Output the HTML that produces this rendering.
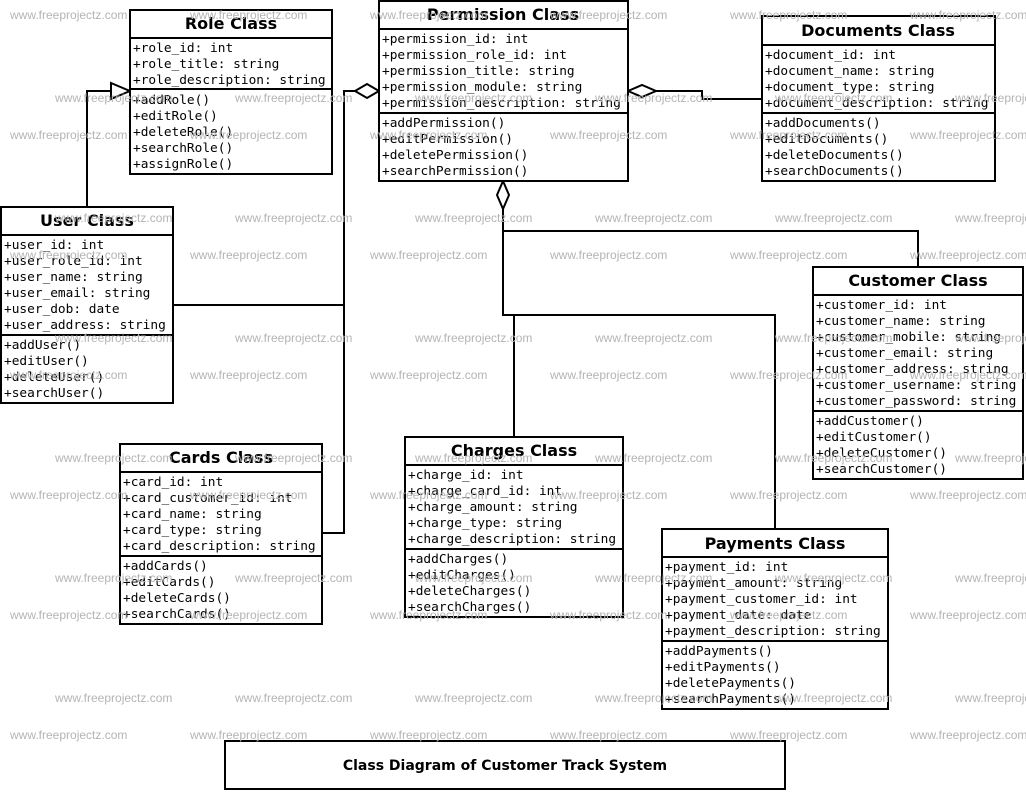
<!DOCTYPE html>
<html><head><meta charset="utf-8"><style>
html,body{margin:0;padding:0;background:#fff}
svg{display:block}
.m{font-family:"DejaVu Sans Mono","Liberation Mono",monospace;font-size:12.8px;fill:#000}
.t{font-family:"DejaVu Sans","Liberation Sans",sans-serif;font-size:16px;font-weight:bold;fill:#000}
.w{font-family:"Liberation Sans","DejaVu Sans",sans-serif;font-size:12px;fill:#b4b4b4}
.b{fill:#fff;stroke:#000;stroke-width:2}
.l{fill:none;stroke:#000;stroke-width:2}
</style></head><body>
<svg width="1026" height="792" viewBox="0 0 1026 792" xmlns="http://www.w3.org/2000/svg">
<!-- connectors -->
<polyline class="l" points="87,207 87,91 111,91"/>
<polygon points="111,83 130,91 111,99" fill="#fff" stroke="#000" stroke-width="2"/>
<polyline class="l" points="173,305 344,305"/>
<polyline class="l" points="322,533 344,533 344,91 355,91"/>
<polygon points="355,91 367,84 379,91 367,98" fill="#fff" stroke="#000" stroke-width="2"/>
<polyline class="l" points="656,91 702,91 702,99 762,99"/>
<polygon points="628,91 642,85 656,91 642,97" fill="#fff" stroke="#000" stroke-width="2"/>
<polygon points="503,181 509,195 503,209 497,195" fill="#fff" stroke="#000" stroke-width="2"/>
<polyline class="l" points="503,209 503,231 918,231 918,267"/>
<polyline class="l" points="503,231 503,315 775,315 775,529"/>
<polyline class="l" points="514,315 514,437"/>

<!-- Role -->
<rect class="b" x="130" y="10" width="202" height="164"/>
<line class="l" x1="130" y1="38" x2="332" y2="38"/><line class="l" x1="130" y1="89" x2="332" y2="89"/>
<text class="t" x="231" y="29" text-anchor="middle">Role Class</text>
<text class="m" x="133" y="52">+role_id: int</text>
<text class="m" x="133" y="68">+role_title: string</text>
<text class="m" x="133" y="84">+role_description: string</text>
<text class="m" x="133" y="104">+addRole()</text>
<text class="m" x="133" y="120">+editRole()</text>
<text class="m" x="133" y="136">+deleteRole()</text>
<text class="m" x="133" y="152">+searchRole()</text>
<text class="m" x="133" y="168">+assignRole()</text>

<!-- Permission -->
<rect class="b" x="379" y="1" width="249" height="180"/>
<line class="l" x1="379" y1="29" x2="628" y2="29"/><line class="l" x1="379" y1="113" x2="628" y2="113"/>
<text class="t" x="503" y="20" text-anchor="middle">Permission Class</text>
<text class="m" x="382" y="43">+permission_id: int</text>
<text class="m" x="382" y="59">+permission_role_id: int</text>
<text class="m" x="382" y="75">+permission_title: string</text>
<text class="m" x="382" y="91">+permission_module: string</text>
<text class="m" x="382" y="107">+permission_description: string</text>
<text class="m" x="382" y="127">+addPermission()</text>
<text class="m" x="382" y="143">+editPermission()</text>
<text class="m" x="382" y="159">+deletePermission()</text>
<text class="m" x="382" y="175">+searchPermission()</text>

<!-- Documents -->
<rect class="b" x="762" y="16" width="233" height="165"/>
<line class="l" x1="762" y1="45" x2="995" y2="45"/><line class="l" x1="762" y1="113" x2="995" y2="113"/>
<text class="t" x="878" y="36" text-anchor="middle">Documents Class</text>
<text class="m" x="765" y="59">+document_id: int</text>
<text class="m" x="765" y="75">+document_name: string</text>
<text class="m" x="765" y="91">+document_type: string</text>
<text class="m" x="765" y="107">+document_description: string</text>
<text class="m" x="765" y="127">+addDocuments()</text>
<text class="m" x="765" y="143">+editDocuments()</text>
<text class="m" x="765" y="159">+deleteDocuments()</text>
<text class="m" x="765" y="175">+searchDocuments()</text>

<!-- User -->
<rect class="b" x="1" y="207" width="172" height="196"/>
<line class="l" x1="1" y1="235" x2="173" y2="235"/><line class="l" x1="1" y1="335" x2="173" y2="335"/>
<text class="t" x="87" y="226" text-anchor="middle">User Class</text>
<text class="m" x="4" y="249">+user_id: int</text>
<text class="m" x="4" y="265">+user_role_id: int</text>
<text class="m" x="4" y="281">+user_name: string</text>
<text class="m" x="4" y="297">+user_email: string</text>
<text class="m" x="4" y="313">+user_dob: date</text>
<text class="m" x="4" y="329">+user_address: string</text>
<text class="m" x="4" y="349">+addUser()</text>
<text class="m" x="4" y="365">+editUser()</text>
<text class="m" x="4" y="381">+deleteUser()</text>
<text class="m" x="4" y="397">+searchUser()</text>

<!-- Customer -->
<rect class="b" x="813" y="267" width="210" height="212"/>
<line class="l" x1="813" y1="295" x2="1023" y2="295"/><line class="l" x1="813" y1="411" x2="1023" y2="411"/>
<text class="t" x="918" y="286" text-anchor="middle">Customer Class</text>
<text class="m" x="816" y="309">+customer_id: int</text>
<text class="m" x="816" y="325">+customer_name: string</text>
<text class="m" x="816" y="341">+customer_mobile: string</text>
<text class="m" x="816" y="357">+customer_email: string</text>
<text class="m" x="816" y="373">+customer_address: string</text>
<text class="m" x="816" y="389">+customer_username: string</text>
<text class="m" x="816" y="405">+customer_password: string</text>
<text class="m" x="816" y="425">+addCustomer()</text>
<text class="m" x="816" y="441">+editCustomer()</text>
<text class="m" x="816" y="457">+deleteCustomer()</text>
<text class="m" x="816" y="473">+searchCustomer()</text>

<!-- Cards -->
<rect class="b" x="120" y="444" width="202" height="180"/>
<line class="l" x1="120" y1="472" x2="322" y2="472"/><line class="l" x1="120" y1="556" x2="322" y2="556"/>
<text class="t" x="221" y="463" text-anchor="middle">Cards Class</text>
<text class="m" x="123" y="486">+card_id: int</text>
<text class="m" x="123" y="502">+card_customer_id: int</text>
<text class="m" x="123" y="518">+card_name: string</text>
<text class="m" x="123" y="534">+card_type: string</text>
<text class="m" x="123" y="550">+card_description: string</text>
<text class="m" x="123" y="570">+addCards()</text>
<text class="m" x="123" y="586">+editCards()</text>
<text class="m" x="123" y="602">+deleteCards()</text>
<text class="m" x="123" y="618">+searchCards()</text>

<!-- Charges -->
<rect class="b" x="405" y="437" width="218" height="180"/>
<line class="l" x1="405" y1="465" x2="623" y2="465"/><line class="l" x1="405" y1="549" x2="623" y2="549"/>
<text class="t" x="514" y="456" text-anchor="middle">Charges Class</text>
<text class="m" x="408" y="479">+charge_id: int</text>
<text class="m" x="408" y="495">+charge_card_id: int</text>
<text class="m" x="408" y="511">+charge_amount: string</text>
<text class="m" x="408" y="527">+charge_type: string</text>
<text class="m" x="408" y="543">+charge_description: string</text>
<text class="m" x="408" y="563">+addCharges()</text>
<text class="m" x="408" y="579">+editCharges()</text>
<text class="m" x="408" y="595">+deleteCharges()</text>
<text class="m" x="408" y="611">+searchCharges()</text>

<!-- Payments -->
<rect class="b" x="662" y="529" width="226" height="180"/>
<line class="l" x1="662" y1="557" x2="888" y2="557"/><line class="l" x1="662" y1="641" x2="888" y2="641"/>
<text class="t" x="775" y="549" text-anchor="middle">Payments Class</text>
<text class="m" x="665" y="571">+payment_id: int</text>
<text class="m" x="665" y="587">+payment_amount: string</text>
<text class="m" x="665" y="603">+payment_customer_id: int</text>
<text class="m" x="665" y="619">+payment_date: date</text>
<text class="m" x="665" y="635">+payment_description: string</text>
<text class="m" x="665" y="655">+addPayments()</text>
<text class="m" x="665" y="671">+editPayments()</text>
<text class="m" x="665" y="687">+deletePayments()</text>
<text class="m" x="665" y="703">+searchPayments()</text>

<!-- caption -->
<rect class="b" x="225" y="741" width="560" height="48"/>
<text x="505" y="770" text-anchor="middle" style="font-family:'DejaVu Sans','Liberation Sans',sans-serif;font-size:14px;font-weight:bold">Class Diagram of Customer Track System</text>

<!-- watermarks -->
<g class="w">
<text x="10" y="19">www.freeprojectz.com</text><text x="190" y="19">www.freeprojectz.com</text><text x="370" y="19">www.freeprojectz.com</text><text x="550" y="19">www.freeprojectz.com</text><text x="730" y="19">www.freeprojectz.com</text><text x="910" y="19">www.freeprojectz.com</text>
<text x="55" y="102">www.freeprojectz.com</text><text x="235" y="102">www.freeprojectz.com</text><text x="415" y="102">www.freeprojectz.com</text><text x="595" y="102">www.freeprojectz.com</text><text x="775" y="102">www.freeprojectz.com</text><text x="955" y="102">www.freeprojectz.com</text>
<text x="10" y="139">www.freeprojectz.com</text><text x="190" y="139">www.freeprojectz.com</text><text x="370" y="139">www.freeprojectz.com</text><text x="550" y="139">www.freeprojectz.com</text><text x="730" y="139">www.freeprojectz.com</text><text x="910" y="139">www.freeprojectz.com</text>
<text x="55" y="222">www.freeprojectz.com</text><text x="235" y="222">www.freeprojectz.com</text><text x="415" y="222">www.freeprojectz.com</text><text x="595" y="222">www.freeprojectz.com</text><text x="775" y="222">www.freeprojectz.com</text><text x="955" y="222">www.freeprojectz.com</text>
<text x="10" y="259">www.freeprojectz.com</text><text x="190" y="259">www.freeprojectz.com</text><text x="370" y="259">www.freeprojectz.com</text><text x="550" y="259">www.freeprojectz.com</text><text x="730" y="259">www.freeprojectz.com</text><text x="910" y="259">www.freeprojectz.com</text>
<text x="55" y="342">www.freeprojectz.com</text><text x="235" y="342">www.freeprojectz.com</text><text x="415" y="342">www.freeprojectz.com</text><text x="595" y="342">www.freeprojectz.com</text><text x="775" y="342">www.freeprojectz.com</text><text x="955" y="342">www.freeprojectz.com</text>
<text x="10" y="379">www.freeprojectz.com</text><text x="190" y="379">www.freeprojectz.com</text><text x="370" y="379">www.freeprojectz.com</text><text x="550" y="379">www.freeprojectz.com</text><text x="730" y="379">www.freeprojectz.com</text><text x="910" y="379">www.freeprojectz.com</text>
<text x="55" y="462">www.freeprojectz.com</text><text x="235" y="462">www.freeprojectz.com</text><text x="415" y="462">www.freeprojectz.com</text><text x="595" y="462">www.freeprojectz.com</text><text x="775" y="462">www.freeprojectz.com</text><text x="955" y="462">www.freeprojectz.com</text>
<text x="10" y="499">www.freeprojectz.com</text><text x="190" y="499">www.freeprojectz.com</text><text x="370" y="499">www.freeprojectz.com</text><text x="550" y="499">www.freeprojectz.com</text><text x="730" y="499">www.freeprojectz.com</text><text x="910" y="499">www.freeprojectz.com</text>
<text x="55" y="582">www.freeprojectz.com</text><text x="235" y="582">www.freeprojectz.com</text><text x="415" y="582">www.freeprojectz.com</text><text x="595" y="582">www.freeprojectz.com</text><text x="775" y="582">www.freeprojectz.com</text><text x="955" y="582">www.freeprojectz.com</text>
<text x="10" y="619">www.freeprojectz.com</text><text x="190" y="619">www.freeprojectz.com</text><text x="370" y="619">www.freeprojectz.com</text><text x="550" y="619">www.freeprojectz.com</text><text x="730" y="619">www.freeprojectz.com</text><text x="910" y="619">www.freeprojectz.com</text>
<text x="55" y="702">www.freeprojectz.com</text><text x="235" y="702">www.freeprojectz.com</text><text x="415" y="702">www.freeprojectz.com</text><text x="595" y="702">www.freeprojectz.com</text><text x="775" y="702">www.freeprojectz.com</text><text x="955" y="702">www.freeprojectz.com</text>
<text x="10" y="739">www.freeprojectz.com</text><text x="190" y="739">www.freeprojectz.com</text><text x="370" y="739">www.freeprojectz.com</text><text x="550" y="739">www.freeprojectz.com</text><text x="730" y="739">www.freeprojectz.com</text><text x="910" y="739">www.freeprojectz.com</text>
</g>
</svg>
</body></html>
